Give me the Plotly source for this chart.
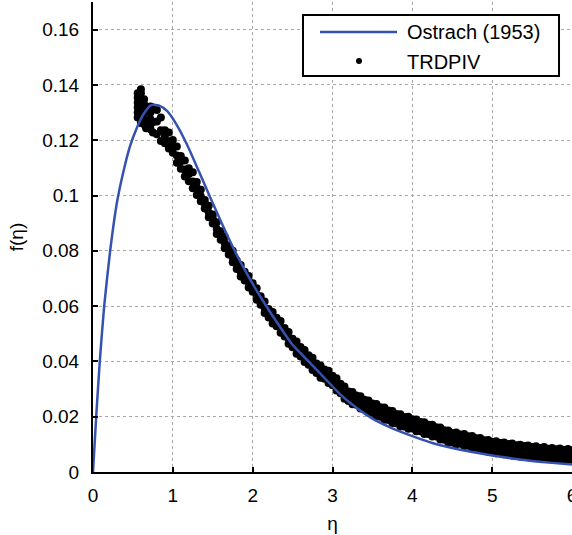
import plotly.graph_objects as go

# Ostrach (1953) similarity profile f(eta)
eta_ostrach = [0, 0.04, 0.085, 0.14, 0.215, 0.30, 0.38, 0.46, 0.55, 0.63, 0.73, 0.83,
               0.93, 1.05, 1.18, 1.33, 1.47, 1.6, 1.75, 1.9, 2.05, 2.2, 2.35, 2.5,
               2.7, 2.9, 3.1, 3.3, 3.5, 3.75, 4.0, 4.25, 4.5, 4.75, 5.0, 5.25, 5.5,
               5.75, 6.0]
f_ostrach = [0, 0.020, 0.040, 0.060, 0.080, 0.0975, 0.1085, 0.1175, 0.1245, 0.1293, 0.1327,
             0.1325, 0.1305, 0.1255, 0.1183, 0.1085, 0.0992, 0.0908, 0.0815, 0.0732,
             0.0656, 0.0587, 0.0522, 0.0460, 0.0400, 0.0340, 0.0280, 0.0232, 0.0193,
             0.0158, 0.0130, 0.0105, 0.0087, 0.0072, 0.0060, 0.0049, 0.0040, 0.0033,
             0.0027]

# TRDPIV measurements near the leading edge of the profile
eta_near = [0.56, 0.56, 0.56, 0.56, 0.56, 0.56,
            0.60, 0.60, 0.60, 0.60, 0.60, 0.60, 0.60, 0.60,
            0.64, 0.64, 0.64, 0.64, 0.64, 0.64,
            0.665,
            0.72, 0.72, 0.72, 0.72, 0.72]
f_near = [0.1282, 0.1300, 0.1318, 0.1336, 0.1354, 0.1370,
          0.1262, 0.1280, 0.1298, 0.1316, 0.1334, 0.1352, 0.1370, 0.1384,
          0.1258, 0.1276, 0.1294, 0.1312, 0.1330, 0.1348,
          0.1243,
          0.1240, 0.1258, 0.1276, 0.1300, 0.1322]

# TRDPIV measurements: stations along eta with upper / middle / lower samples
eta_piv = [round(0.75 + 0.05 * i, 2) for i in range(106)]
f_piv_hi = [0.1318, 0.1309, 0.1282, 0.1236, 0.1228, 0.1201, 0.1177, 0.1143, 0.1127, 0.1099,
            0.1084, 0.1049, 0.1021, 0.0984, 0.0963, 0.0931, 0.0903, 0.0871, 0.0851, 0.0818,
            0.0800, 0.0765, 0.0749, 0.0724, 0.0709, 0.0683, 0.0665, 0.0636, 0.0617, 0.0590,
            0.0579, 0.0558, 0.0546, 0.0521, 0.0506, 0.0482, 0.0472, 0.0452, 0.0441, 0.0422,
            0.0413, 0.0392, 0.0385, 0.0371, 0.0366, 0.0348, 0.0339, 0.0319, 0.0309, 0.0291,
            0.0289, 0.0277, 0.0274, 0.0261, 0.0259, 0.0248, 0.0246, 0.0234, 0.0233, 0.0222,
            0.0221, 0.0210, 0.0209, 0.0199, 0.0200, 0.0191, 0.0190, 0.0181, 0.0180, 0.0171,
            0.0171, 0.0162, 0.0161, 0.0151, 0.0150, 0.0141, 0.0143, 0.0136, 0.0137, 0.0129,
            0.0130, 0.0122, 0.0123, 0.0115, 0.0116, 0.0109, 0.0111, 0.0105, 0.0107, 0.0101,
            0.0103, 0.0097, 0.0099, 0.0094, 0.0096, 0.0090, 0.0093, 0.0087, 0.0090, 0.0084,
            0.0087, 0.0082, 0.0085, 0.0080, 0.0083, 0.0079]
f_piv_mid = [0.1265, 0.1268, 0.1236, 0.1215, 0.1196, 0.1181, 0.1145, 0.1124, 0.1094, 0.1078,
             0.1051, 0.1028, 0.0997, 0.0971, 0.0939, 0.0918, 0.0879, 0.0858, 0.0827, 0.0805,
             0.0777, 0.0752, 0.0725, 0.0711, 0.0685, 0.0670, 0.0641, 0.0623, 0.0593, 0.0577,
             0.0555, 0.0545, 0.0522, 0.0508, 0.0482, 0.0469, 0.0447, 0.0438, 0.0417, 0.0408,
             0.0388, 0.0378, 0.0360, 0.0357, 0.0341, 0.0334, 0.0314, 0.0305, 0.0284, 0.0277,
             0.0264, 0.0263, 0.0249, 0.0247, 0.0234, 0.0234, 0.0221, 0.0220, 0.0208, 0.0208,
             0.0196, 0.0196, 0.0184, 0.0185, 0.0175, 0.0177, 0.0166, 0.0167, 0.0156, 0.0157,
             0.0147, 0.0148, 0.0137, 0.0137, 0.0126, 0.0127, 0.0119, 0.0122, 0.0113, 0.0115,
             0.0105, 0.0108, 0.0099, 0.0101, 0.0092, 0.0095, 0.0087, 0.0091, 0.0083, 0.0087,
             0.0079, 0.0083, 0.0075, 0.0080, 0.0072, 0.0076, 0.0069, 0.0073, 0.0066, 0.0070,
             0.0063, 0.0068, 0.0061, 0.0066, 0.0059, 0.0064]
f_piv_lo = [0.1228, 0.1222, 0.1197, 0.1189, 0.1170, 0.1155, 0.1119, 0.1097, 0.1069, 0.1052,
            0.1026, 0.1002, 0.0979, 0.0953, 0.0921, 0.0899, 0.0861, 0.0840, 0.0809, 0.0787,
            0.0759, 0.0734, 0.0707, 0.0693, 0.0667, 0.0652, 0.0623, 0.0605, 0.0575, 0.0559,
            0.0537, 0.0527, 0.0504, 0.0490, 0.0464, 0.0451, 0.0428, 0.0418, 0.0398, 0.0388,
            0.0369, 0.0358, 0.0341, 0.0337, 0.0322, 0.0314, 0.0295, 0.0285, 0.0265, 0.0257,
            0.0245, 0.0243, 0.0230, 0.0227, 0.0215, 0.0214, 0.0202, 0.0200, 0.0189, 0.0188,
            0.0177, 0.0176, 0.0165, 0.0165, 0.0156, 0.0157, 0.0147, 0.0147, 0.0137, 0.0137,
            0.0128, 0.0128, 0.0118, 0.0117, 0.0107, 0.0107, 0.0100, 0.0102, 0.0094, 0.0095,
            0.0086, 0.0088, 0.0080, 0.0081, 0.0073, 0.0075, 0.0068, 0.0071, 0.0064, 0.0067,
            0.0060, 0.0063, 0.0056, 0.0060, 0.0053, 0.0056, 0.0050, 0.0053, 0.0048, 0.0050,
            0.0045, 0.0048, 0.0043, 0.0046, 0.0042, 0.0044]

x_ticks = [0, 1, 2, 3, 4, 5, 6]
x_tick_text = ["0", "1", "2", "3", "4", "5", "6"]
y_ticks = [0, 0.02, 0.04, 0.06, 0.08, 0.10, 0.12, 0.14, 0.16]
y_tick_text = ["0", "0.02", "0.04", "0.06", "0.08", "0.1", "0.12", "0.14", "0.16"]

series_names = ["Ostrach (1953)", "TRDPIV"]

eta_all = eta_near + eta_piv * 3
f_all = f_near + f_piv_hi + f_piv_mid + f_piv_lo

FONT = "Liberation Sans, Arial, Helvetica, sans-serif"
BLUE = "#3552b0"

fig = go.Figure()
fig.add_trace(go.Scatter(
    x=eta_all, y=f_all, mode="markers", name=series_names[1],
    marker=dict(color="black", size=8, line=dict(width=0)),
    cliponaxis=False, showlegend=False,
))
fig.add_trace(go.Scatter(
    x=eta_ostrach, y=f_ostrach, mode="lines", name=series_names[0],
    line=dict(color=BLUE, width=2.5, shape="spline", smoothing=0.6),
    showlegend=False,
))

axis_common = dict(
    showline=True, linecolor="black", linewidth=2,
    ticks="inside", ticklen=5, tickwidth=2, tickcolor="black",
    showgrid=True, gridcolor="#a8a8a8", gridwidth=1, griddash="dot",
    zeroline=False, mirror=False, ticklabeloverflow="allow", automargin=False,
    tickfont=dict(family=FONT, size=19, color="black"),
)

fig.update_xaxes(
    range=[0, 6], tickvals=x_ticks, ticktext=x_tick_text,
    title=dict(text="η", font=dict(family=FONT, size=19, color="black"), standoff=12),
    ticklabelstandoff=5,
    **axis_common,
)
fig.update_yaxes(
    range=[0, 0.17], tickvals=y_ticks, ticktext=y_tick_text,
    title=dict(text="f(η)", font=dict(family=FONT, size=19, color="black"), standoff=14),
    ticklabelstandoff=8,
    **axis_common,
)

# Boxed legend in the upper right corner of the axes
box = dict(x0=0.4384, x1=0.9729, y0=0.8426, y1=0.9723)
row_y = [0.9362, 0.8723]
shapes = [
    dict(type="rect", xref="paper", yref="paper", layer="above",
         fillcolor="white", line=dict(color="black", width=2), **box),
    dict(type="line", xref="paper", yref="paper", layer="above",
         x0=0.4739, x1=0.6347, y0=row_y[0], y1=row_y[0],
         line=dict(color=BLUE, width=2.5)),
    dict(type="circle", xref="paper", yref="paper", layer="above",
         xsizemode="pixel", ysizemode="pixel", xanchor=0.5553, yanchor=row_y[1] + 0.002,
         x0=-3, x1=3, y0=-3, y1=3, fillcolor="black", line=dict(width=0)),
]
annotations = [
    dict(xref="paper", yref="paper", x=0.6514, y=yy, text=name, showarrow=False,
         xanchor="left", yanchor="middle",
         font=dict(family=FONT, size=20, color="black"))
    for name, yy in zip(series_names, row_y)
]

fig.update_layout(
    width=572, height=535,
    margin=dict(l=93, r=0, t=2, b=63),
    paper_bgcolor="white", plot_bgcolor="white",
    font=dict(family=FONT, size=19, color="black"),
    showlegend=False,
    shapes=shapes, annotations=annotations,
)

fig.write_html("out.html")
